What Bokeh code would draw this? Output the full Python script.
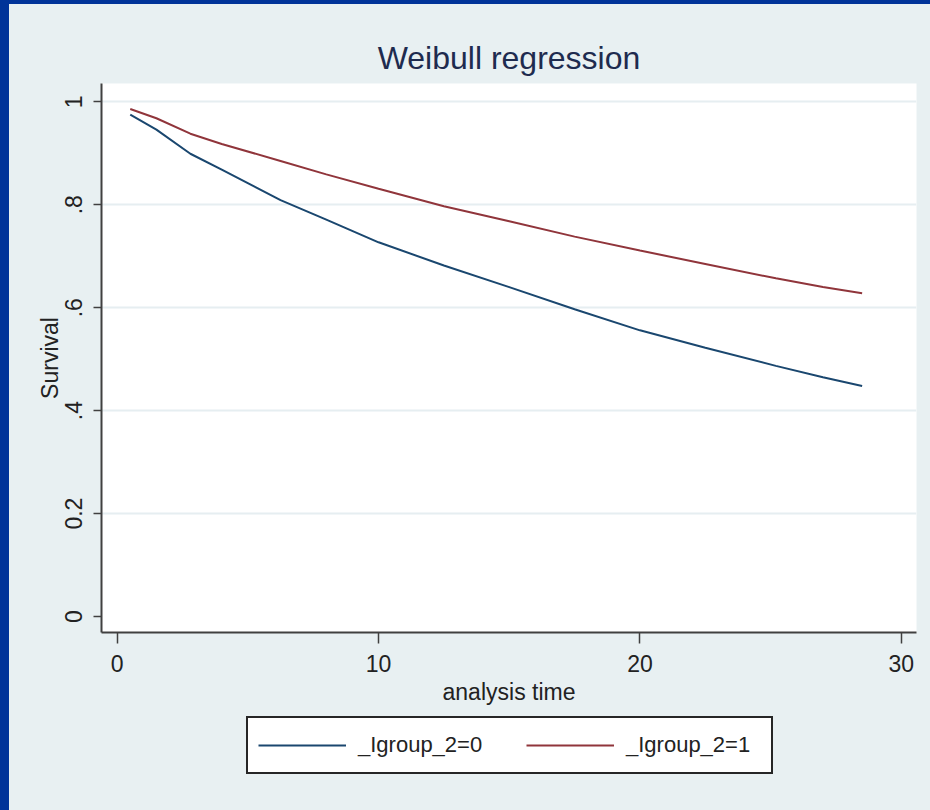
from bokeh.plotting import figure
from bokeh.models import Legend, LegendItem, FixedTicker, Range1d, Spacer
from bokeh.layouts import row, column
from bokeh.embed import file_html
from bokeh.resources import INLINE

# ---- data ----
time = [0.5, 1.5, 2.8, 4, 6.25, 8, 10, 12.5, 15, 17.5, 20, 22.5, 25.2, 27, 28.5]
surv_group0 = [0.975, 0.946, 0.899, 0.868, 0.809, 0.771, 0.727, 0.682, 0.640,
               0.597, 0.556, 0.522, 0.487, 0.465, 0.448]
surv_group1 = [0.986, 0.968, 0.938, 0.918, 0.885, 0.859, 0.831, 0.797, 0.768,
               0.738, 0.711, 0.685, 0.657, 0.640, 0.628]
series_labels = ["_Igroup_2=0", "_Igroup_2=1"]
series_colors = ["#1A476F", "#90353B"]
x_ticks = [0, 10, 20, 30]
y_ticks = [0, 0.2, 0.4, 0.6, 0.8, 1.0]
y_tick_labels = {0: "0", 0.2: "0.2", 0.4: ".4", 0.6: ".6", 0.8: ".8", 1.0: "1"}

BG = "#E8F0F2"
EDGE = "#003399"
FONT = "Liberation Sans"
TXT = "#222222"

# ---------------- main plot ----------------
p = figure(width=921, height=711, output_backend="svg", toolbar_location=None,
           x_range=Range1d(-0.60, 30.58), y_range=Range1d(-0.031, 1.0355),
           min_border_left=92, min_border_right=14, min_border_top=79,
           min_border_bottom=83)
p.background_fill_color = "white"
p.border_fill_color = BG
p.outline_line_color = None

p.title.text = "Weibull regression"
p.title.align = "center"
p.title.offset = 4
p.title.text_font = FONT
p.title.text_font_size = "32px"
p.title.text_font_style = "normal"
p.title.text_color = "#1E2B4F"
p.title.standoff = 16

p.line(time, surv_group0, line_color=series_colors[0], line_width=2)
p.line(time, surv_group1, line_color=series_colors[1], line_width=2)

xa = p.xaxis[0]
xa.ticker = FixedTicker(ticks=x_ticks)
xa.axis_label = "analysis time"
xa.axis_label_text_font = FONT
xa.axis_label_text_font_size = "23px"
xa.axis_label_text_font_style = "normal"
xa.axis_label_text_color = TXT
xa.axis_label_standoff = 4
xa.major_label_text_font = FONT
xa.major_label_text_font_size = "23px"
xa.major_label_text_color = TXT
xa.major_label_standoff = 11
xa.axis_line_color = "#404040"
xa.axis_line_width = 2
xa.major_tick_line_color = "#404040"
xa.major_tick_line_width = 1.5
xa.major_tick_out = 11
xa.major_tick_in = 0
xa.minor_tick_line_color = None

ya = p.yaxis[0]
ya.ticker = FixedTicker(ticks=y_ticks)
ya.major_label_overrides = y_tick_labels
ya.major_label_orientation = "vertical"
ya.axis_label = "Survival"
ya.axis_label_text_font = FONT
ya.axis_label_text_font_size = "23px"
ya.axis_label_text_font_style = "normal"
ya.axis_label_text_color = TXT
ya.axis_label_standoff = 0
ya.major_label_text_font = FONT
ya.major_label_text_font_size = "23px"
ya.major_label_text_color = TXT
ya.major_label_standoff = 11
ya.axis_line_color = "#404040"
ya.axis_line_width = 2
ya.major_tick_line_color = "#404040"
ya.major_tick_line_width = 1.5
ya.major_tick_out = 8
ya.major_tick_in = 0
ya.minor_tick_line_color = None

p.xgrid.grid_line_color = None
p.ygrid.ticker = FixedTicker(ticks=[0.2, 0.4, 0.6, 0.8, 1.0])
p.ygrid.grid_line_color = "#E6EEF1"
p.ygrid.grid_line_width = 2

# ---------------- legend strip (the curves are out of view here) ----------------
q = figure(width=921, height=95, output_backend="svg", toolbar_location=None,
           x_range=Range1d(0, 1), y_range=Range1d(5, 6),
           min_border_left=0, min_border_right=0, min_border_top=0,
           min_border_bottom=0)
q.axis.visible = False
q.grid.grid_line_color = None
q.outline_line_color = None
q.background_fill_color = BG
q.background_fill_alpha = 0
q.border_fill_color = BG
q.border_fill_alpha = 0
g0 = q.line(time, surv_group0, line_color=series_colors[0], line_width=2)
g1 = q.line(time, surv_group1, line_color=series_colors[1], line_width=2)

legend = Legend(items=[LegendItem(label=series_labels[0], renderers=[g0]),
                       LegendItem(label=series_labels[1], renderers=[g1])],
                orientation="horizontal", location=(145, 36))
legend.label_text_font = FONT
legend.label_text_font_size = "22px"
legend.label_text_color = TXT
legend.glyph_width = 88
legend.glyph_height = 34
legend.label_height = 34
legend.label_width = 135
legend.label_standoff = 12
legend.spacing = 33
legend.padding = 10
legend.margin = 0
legend.border_line_color = "#262626"
legend.border_line_alpha = 1
legend.border_line_width = 2
legend.background_fill_color = "white"
legend.background_fill_alpha = 1
q.add_layout(legend, "center")

left_edge = Spacer(width=9, height=810, styles={"background-color": EDGE})
top_edge = Spacer(width=921, height=4, styles={"background-color": EDGE})
main = column(top_edge, p, q, spacing=0, styles={"background-color": BG})
page = row(left_edge, main, spacing=0, styles={"background-color": BG})

open("out.html", "w").write(file_html(page, INLINE))
